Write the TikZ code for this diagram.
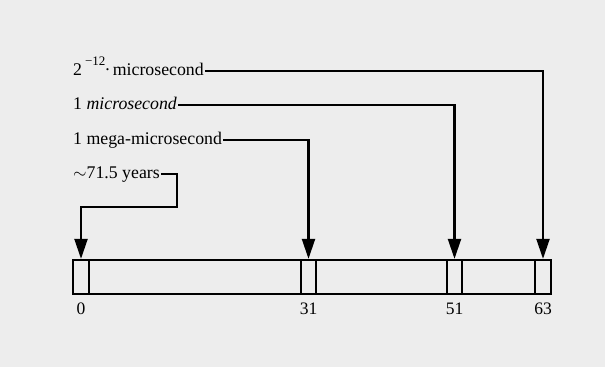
\documentclass[tikz,border=0pt]{standalone}
\usepackage{fontspec}
\setmainfont{Liberation Serif}
\usetikzlibrary{arrows.meta}
\begin{document}
\begin{tikzpicture}[x=1pt,y=-1pt,
  lbl/.style={anchor=base west, inner sep=0pt, font=\fontsize{17.8}{20}\selectfont},
  num/.style={anchor=north, inner sep=0pt, font=\fontsize{17.5}{20}\selectfont},
  cell/.style={draw, line width=2.3pt, minimum height=34pt, inner sep=0pt},
  conn/.style={line width=2.2pt},
  arr/.style={conn, -{Triangle[length=20pt,width=13pt]}}]
\fill[gray!14] (0,0) rectangle (605,367);
\useasboundingbox (0,0) rectangle (605,367);
% register
\node[cell, minimum width=478pt] (bar) at (312,277) {};
\node[cell, minimum width=16pt] (c0)  at (81,277) {};
\node[cell, minimum width=15pt] (c31) at (308.5,277) {};
\node[cell, minimum width=15pt] (c51) at (454.5,277) {};
\node[cell, minimum width=16pt] (c63) at (543,277) {};
% bit numbers
\node[num] (n0)  at ([yshift=-8pt]c0.south)  {0};
\node[num] (n31) at ([yshift=-8pt]c31.south) {31};
\node[num] (n51) at ([yshift=-8pt]c51.south) {51};
\node[num] (n63) at ([yshift=-8pt]c63.south) {63};
% labels
\node[lbl] (l1) at (73,75) {2\,\raisebox{0.55em}{\fontsize{13}{13}\selectfont −12}\raisebox{0.25em}{.}\,microsecond};
\node[lbl] (l2) at (73,109) {1 \textit{microsecond}};
\node[lbl] (l3) at (73,144) {1 mega-microsecond};
\node[lbl] (l4) at (73,178) {$\sim$71.5 years};
% connectors
\coordinate (k4) at (177,207);
\draw[arr] ([xshift=1pt,yshift=1.5pt]l1.mid east) -| (c63.north);
\draw[arr] ([xshift=1pt,yshift=1.5pt]l2.mid east) -| (c51.north);
\draw[arr] ([xshift=1pt,yshift=1.5pt]l3.mid east) -| (c31.north);
\draw[arr] ([xshift=1pt,yshift=1.5pt]l4.mid east) -| (k4) -| (c0.north);
\end{tikzpicture}
\end{document}
